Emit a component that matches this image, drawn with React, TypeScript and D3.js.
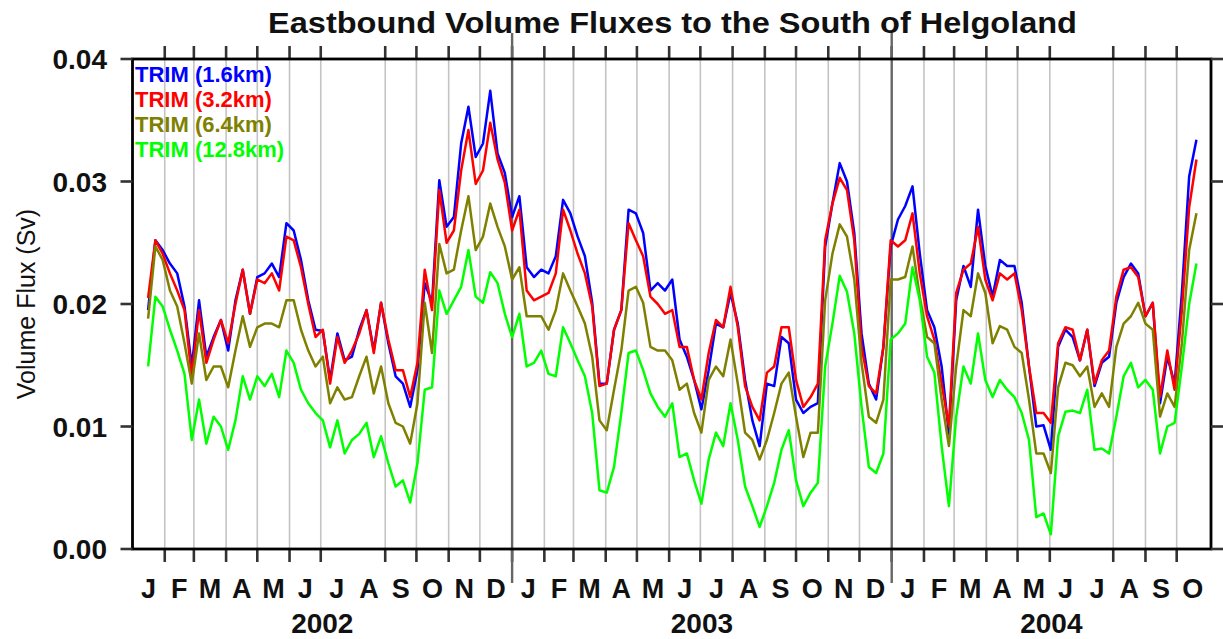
import React from "react";
import * as d3 from "d3";

const title = "Eastbound Volume Fluxes to the South of Helgoland";
const yLabel = "Volume Flux (Sv)";
const seriesNames = ["TRIM (1.6km)", "TRIM (3.2km)", "TRIM (6.4km)", "TRIM (12.8km)"];
const seriesColors = ["#0000ff", "#ff0000", "#808000", "#00ff00"];
const firstSample = "2002-01-16";
const sampleStepDays = 7;
const axisStart = "2002-01-01";
const axisEnd = "2004-11-03";
const labelEnd = "2004-11-01";
const yTicks = [0, 0.01, 0.02, 0.03, 0.04];
const monthLetters = ["J", "F", "M", "A", "M", "J", "J", "A", "S", "O", "N", "D"];
const omittedMonthLines = ["2002-08-01", "2004-07-01"];

const flux16 = [
  0.0195, 0.0252, 0.0244, 0.0233, 0.0225, 0.0198, 0.0149, 0.0203, 0.0157, 0.0173,
  0.0187, 0.0162, 0.0203, 0.0228, 0.0192, 0.0222, 0.0225, 0.0233, 0.0222, 0.0266,
  0.0260, 0.0236, 0.0203, 0.0179, 0.0178, 0.0138, 0.0176, 0.0154, 0.0157, 0.0179,
  0.0195, 0.0162, 0.0201, 0.0168, 0.0141, 0.0135, 0.0116, 0.0146, 0.0217, 0.0201,
  0.0301, 0.0263, 0.0271, 0.0331, 0.0361, 0.0320, 0.0331, 0.0374, 0.0323, 0.0307,
  0.0271, 0.0288, 0.0230, 0.0222, 0.0228, 0.0225, 0.0239, 0.0285, 0.0274, 0.0255,
  0.0239, 0.0201, 0.0135, 0.0135, 0.0179, 0.0195, 0.0277, 0.0274, 0.0258, 0.0211,
  0.0217, 0.0211, 0.0220, 0.0171, 0.0157, 0.0138, 0.0114, 0.0146, 0.0184, 0.0181,
  0.0209, 0.0184, 0.0138, 0.0105, 0.0084, 0.0135, 0.0133, 0.0173, 0.0168, 0.0122,
  0.0111, 0.0116, 0.0119, 0.0247, 0.0282, 0.0315, 0.0300, 0.0258, 0.0176, 0.0135,
  0.0122, 0.0165, 0.0247, 0.0269, 0.0280, 0.0296, 0.0241, 0.0195, 0.0181, 0.0149,
  0.0094, 0.0203, 0.0231, 0.0214, 0.0277, 0.0231, 0.0206, 0.0236, 0.0231, 0.0231,
  0.0201, 0.0149, 0.0100, 0.0101, 0.0081, 0.0165, 0.0179, 0.0173, 0.0154, 0.0179,
  0.0133, 0.0152, 0.0157, 0.0201, 0.0222, 0.0233, 0.0225, 0.0190, 0.0201, 0.0119,
  0.0157, 0.0135, 0.0209, 0.0304, 0.0334,
];

const flux32 = [
  0.0205, 0.0252, 0.0241, 0.0225, 0.0211, 0.0195, 0.0141, 0.0195, 0.0152, 0.0171,
  0.0187, 0.0168, 0.0200, 0.0228, 0.0192, 0.0220, 0.0217, 0.0225, 0.0211, 0.0255,
  0.0252, 0.0230, 0.0200, 0.0173, 0.0179, 0.0135, 0.0173, 0.0152, 0.0162, 0.0176,
  0.0195, 0.0160, 0.0201, 0.0171, 0.0146, 0.0146, 0.0124, 0.0152, 0.0228, 0.0195,
  0.0293, 0.0250, 0.0260, 0.0309, 0.0342, 0.0298, 0.0309, 0.0348, 0.0318, 0.0299,
  0.0260, 0.0277, 0.0211, 0.0203, 0.0206, 0.0209, 0.0225, 0.0277, 0.0260, 0.0241,
  0.0225, 0.0198, 0.0133, 0.0135, 0.0179, 0.0195, 0.0266, 0.0252, 0.0239, 0.0206,
  0.0200, 0.0192, 0.0195, 0.0165, 0.0165, 0.0138, 0.0122, 0.0160, 0.0187, 0.0181,
  0.0214, 0.0181, 0.0133, 0.0116, 0.0105, 0.0144, 0.0149, 0.0181, 0.0181, 0.0138,
  0.0116, 0.0124, 0.0135, 0.0252, 0.0282, 0.0303, 0.0293, 0.0252, 0.0165, 0.0133,
  0.0127, 0.0165, 0.0252, 0.0247, 0.0252, 0.0274, 0.0225, 0.0190, 0.0171, 0.0135,
  0.0100, 0.0209, 0.0228, 0.0233, 0.0263, 0.0220, 0.0203, 0.0225, 0.0220, 0.0225,
  0.0195, 0.0149, 0.0111, 0.0111, 0.0103, 0.0168, 0.0181, 0.0179, 0.0154, 0.0179,
  0.0135, 0.0154, 0.0162, 0.0206, 0.0228, 0.0230, 0.0222, 0.0190, 0.0201, 0.0124,
  0.0162, 0.0130, 0.0195, 0.0279, 0.0318,
];

const flux64 = [
  0.0188, 0.0247, 0.0236, 0.0211, 0.0198, 0.0168, 0.0135, 0.0176, 0.0138, 0.0149,
  0.0149, 0.0132, 0.0162, 0.0190, 0.0165, 0.0181, 0.0184, 0.0184, 0.0181, 0.0203,
  0.0203, 0.0179, 0.0162, 0.0149, 0.0157, 0.0119, 0.0132, 0.0122, 0.0124, 0.0141,
  0.0157, 0.0127, 0.0149, 0.0119, 0.0103, 0.0100, 0.0086, 0.0119, 0.0201, 0.0160,
  0.0249, 0.0225, 0.0228, 0.0260, 0.0288, 0.0244, 0.0255, 0.0282, 0.0263, 0.0247,
  0.0220, 0.0230, 0.0190, 0.0190, 0.0190, 0.0179, 0.0195, 0.0225, 0.0211, 0.0198,
  0.0184, 0.0157, 0.0105, 0.0097, 0.0130, 0.0162, 0.0211, 0.0214, 0.0201, 0.0165,
  0.0162, 0.0162, 0.0154, 0.0130, 0.0135, 0.0111, 0.0095, 0.0138, 0.0149, 0.0141,
  0.0171, 0.0135, 0.0095, 0.0089, 0.0073, 0.0089, 0.0111, 0.0135, 0.0144, 0.0108,
  0.0075, 0.0095, 0.0095, 0.0203, 0.0241, 0.0265, 0.0255, 0.0220, 0.0152, 0.0108,
  0.0103, 0.0122, 0.0220, 0.0220, 0.0222, 0.0247, 0.0206, 0.0173, 0.0168, 0.0122,
  0.0084, 0.0149, 0.0195, 0.0190, 0.0225, 0.0209, 0.0168, 0.0182, 0.0179, 0.0165,
  0.0160, 0.0122, 0.0078, 0.0078, 0.0062, 0.0132, 0.0152, 0.0150, 0.0141, 0.0149,
  0.0116, 0.0127, 0.0116, 0.0165, 0.0184, 0.0190, 0.0201, 0.0184, 0.0179, 0.0108,
  0.0127, 0.0116, 0.0168, 0.0244, 0.0274,
];

const flux128 = [
  0.0149, 0.0206, 0.0198, 0.0179, 0.0162, 0.0143, 0.0089, 0.0122, 0.0086, 0.0108,
  0.0100, 0.0081, 0.0105, 0.0141, 0.0122, 0.0141, 0.0133, 0.0143, 0.0124, 0.0162,
  0.0152, 0.0130, 0.0119, 0.0111, 0.0105, 0.0083, 0.0105, 0.0078, 0.0089, 0.0094,
  0.0103, 0.0075, 0.0092, 0.0070, 0.0051, 0.0056, 0.0038, 0.0070, 0.0130, 0.0132,
  0.0211, 0.0192, 0.0203, 0.0214, 0.0244, 0.0206, 0.0201, 0.0226, 0.0217, 0.0192,
  0.0173, 0.0192, 0.0149, 0.0152, 0.0162, 0.0143, 0.0141, 0.0181, 0.0168, 0.0154,
  0.0141, 0.0111, 0.0048, 0.0046, 0.0067, 0.0111, 0.0160, 0.0162, 0.0146, 0.0127,
  0.0116, 0.0108, 0.0119, 0.0075, 0.0078, 0.0056, 0.0037, 0.0073, 0.0095, 0.0084,
  0.0119, 0.0089, 0.0051, 0.0035, 0.0018, 0.0035, 0.0054, 0.0081, 0.0097, 0.0056,
  0.0035, 0.0046, 0.0054, 0.0149, 0.0184, 0.0223, 0.0210, 0.0176, 0.0116, 0.0067,
  0.0062, 0.0078, 0.0171, 0.0176, 0.0184, 0.0230, 0.0203, 0.0157, 0.0144, 0.0084,
  0.0035, 0.0108, 0.0149, 0.0135, 0.0176, 0.0138, 0.0124, 0.0138, 0.0130, 0.0124,
  0.0111, 0.0089, 0.0026, 0.0029, 0.0012, 0.0092, 0.0112, 0.0113, 0.0111, 0.0130,
  0.0081, 0.0082, 0.0078, 0.0108, 0.0141, 0.0152, 0.0132, 0.0138, 0.0130, 0.0078,
  0.0100, 0.0103, 0.0149, 0.0200, 0.0233,
];

const seriesValues = [flux16, flux32, flux64, flux128];

const W = 1223;
const H = 639;
const M = { left: 132.5, right: 1211, top: 59, bottom: 549 };
const FONT = "'Liberation Sans', Arial, Helvetica, sans-serif";

const parse = (s: string) => d3.utcParse("%Y-%m-%d")(s) as Date;

export default function App() {
  const x = d3.scaleUtc().domain([parse(axisStart), parse(axisEnd)]).range([M.left, M.right]);
  const y = d3.scaleLinear().domain([0, 0.04]).range([M.bottom, M.top]);

  const start = parse(firstSample);
  const dates = flux16.map((_, i) => d3.utcDay.offset(start, i * sampleStepDays));

  const line = d3
    .line<number>()
    .x((_, i) => x(dates[i]))
    .y((v) => y(v));

  const omitted = new Set(omittedMonthLines.map((s) => +parse(s)));
  const months = d3.utcMonth.range(parse(axisStart), parse(labelEnd));
  const gridMonths = months.filter(
    (m) => m.getUTCMonth() !== 0 && !omitted.has(+m)
  );
  const yearStarts = months.filter((m) => m.getUTCMonth() === 0 && +m !== +parse(axisStart));
  const yearsList = d3.utcYear.range(parse(axisStart), parse(axisEnd));

  return (
    <svg
      width={W}
      height={H}
      style={{ position: "absolute", left: 0, top: 0, background: "#fff" }}
      fontFamily={FONT}
    >
      <rect x={0} y={0} width={W} height={H} fill="#fff" />
      {gridMonths.map((m, i) => (
        <line key={"g" + i} x1={x(m)} x2={x(m)} y1={M.top} y2={M.bottom} stroke="#c4c4c4" strokeWidth={1.6} />
      ))}
      {[...gridMonths, ...yearStarts].map((m, i) => (
        <g key={"t" + i}>
          <line x1={x(m)} x2={x(m)} y1={M.top} y2={M.top - 13} stroke="#333" strokeWidth={2.6} />
          <line x1={x(m)} x2={x(m)} y1={M.bottom} y2={M.bottom + 13} stroke="#333" strokeWidth={2.6} />
        </g>
      ))}
      {yearStarts.map((m, i) => (
        <line key={"y" + i} x1={x(m)} x2={x(m)} y1={33} y2={583} stroke="#666" strokeWidth={2.4} />
      ))}

      {seriesValues.map((vals, si) => (
        <path key={"s" + si} d={line(vals) || ""} fill="none" stroke={seriesColors[si]} strokeWidth={2.5} strokeLinejoin="round" />
      ))}

      <rect x={M.left} y={M.top} width={M.right - M.left} height={M.bottom - M.top} fill="none" stroke="#000" strokeWidth={2.8} />

      {yTicks.map((t, i) => (
        <g key={"yt" + i}>
          <line x1={M.left - 12} x2={M.left} y1={y(t)} y2={y(t)} stroke="#333" strokeWidth={2.6} />
          <line x1={M.right} x2={M.right + 12} y1={y(t)} y2={y(t)} stroke="#333" strokeWidth={2.6} />
          <text x={107} y={y(t) + 10} textAnchor="end" fontSize={28} fontWeight="bold" fill="#111">
            {d3.format(".2f")(t)}
          </text>
        </g>
      ))}

      {months.map((m, i) => {
        const next = d3.utcMonth.offset(m, 1);
        const cx = (x(m) + x(next)) / 2;
        return (
          <text key={"ml" + i} x={cx} y={598} textAnchor="middle" fontSize={27} fontWeight="bold" fill="#111">
            {monthLetters[m.getUTCMonth()]}
          </text>
        );
      })}

      {yearsList.map((yr, i) => {
        const a = x(yr);
        const b = x(d3.min([d3.utcYear.offset(yr, 1), parse(axisEnd)], (d) => +d) as any);
        return (
          <text key={"yl" + i} x={(a + b) / 2} y={633} textAnchor="middle" fontSize={28} fontWeight="bold" fill="#111">
            {yr.getUTCFullYear()}
          </text>
        );
      })}

      {seriesNames.map((n, i) => (
        <text key={"lg" + i} x={135} y={82 + i * 25} fontSize={22} fontWeight="bold" fill={seriesColors[i]}>
          {n}
        </text>
      ))}

      <text x={672.5} y={33} textAnchor="middle" fontSize={30} fontWeight="bold" fill="#111" textLength={809} lengthAdjust="spacingAndGlyphs">
        {title}
      </text>

      <text transform={`translate(35,${(M.top + M.bottom) / 2}) rotate(-90)`} textAnchor="middle" fontSize={25} fill="#111">
        {yLabel}
      </text>
    </svg>
  );
}
